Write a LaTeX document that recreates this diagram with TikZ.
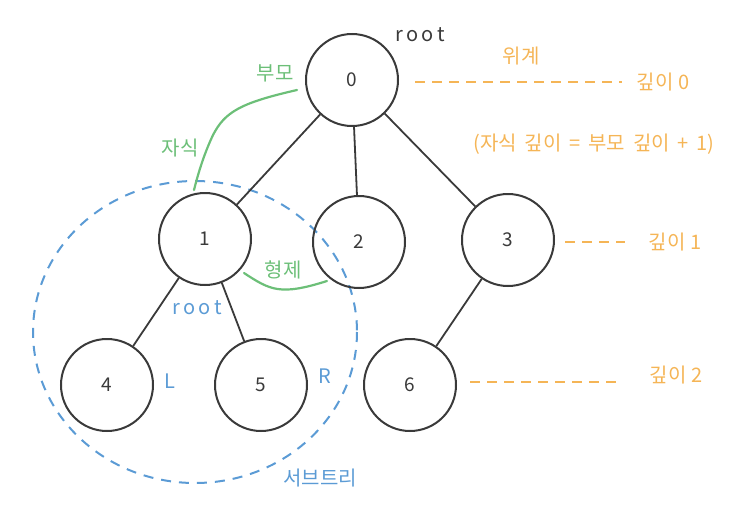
\documentclass[tikz,border=0pt]{standalone}
\usepackage{fontspec}
\setmainfont{Noto Sans CJK KR}
\definecolor{ink}{HTML}{3A3A3A}
\definecolor{grn}{HTML}{6CBF78}
\definecolor{org}{HTML}{F5B556}
\definecolor{blu}{HTML}{5B9BD5}
\tikzset{
  tnode/.style={circle,draw=ink,line width=2pt,minimum size=92pt,inner sep=0pt,font=\fontsize{19}{19}\selectfont,text=ink},
  edge/.style={draw=ink,line width=1.8pt},
  lbl/.style={font=\fontsize{20}{20}\selectfont,inner sep=0pt},
  olbl/.style={lbl,text=org},
  glbl/.style={lbl,text=grn},
  blbl/.style={lbl,text=blu},
  odash/.style={draw=org,line width=2pt,dash pattern=on 10pt off 7pt},
  gcurve/.style={draw=grn,line width=2.2pt,line cap=round},
}
\begin{document}
\begin{tikzpicture}[x=1pt,y=-1pt]
\useasboundingbox (0,0) rectangle (756,525);
% subtree circle
\draw[blu,line width=2pt,dash pattern=on 10pt off 8pt] (195,332) ellipse [x radius=162, y radius=151];
% nodes
\node[tnode] (n0) at (352,80) {0};
\node[tnode] (n1) at (205,239) {1};
\node[tnode] (n2) at (359,242) {2};
\node[tnode] (n3) at (508,240) {3};
\node[tnode] (n4) at (107,385) {4};
\node[tnode] (n5) at (261,385) {5};
\node[tnode] (n6) at (410,385) {6};
% edges
\draw[edge] (n0) -- (n1);
\draw[edge] (n0) -- (n2);
\draw[edge] (n0) -- (n3);
\draw[edge] (n1) -- (n4);
\draw[edge] (n1) -- (n5);
\draw[edge] (n3) -- (n6);
% labels
\node[lbl,text=ink] (rt) at (420,35) {r\,o\,o\,t};
\node[olbl] (wg) at (521,56) {위계};
\node[olbl] (d0) at (663,82) {깊이 0};
\node[olbl] (frm) at (594,144) {(자식\ \,깊이\ \,=\ \,부모\ \,깊이\ \,+\ \,1)};
\node[olbl] (d1) at (675,242) {깊이 1};
\node[olbl] (d2) at (676,375) {깊이 2};
\coordinate (a0) at (415,82); \coordinate (b0) at (622,82);
\coordinate (a1) at (565,242); \coordinate (b1) at (625,242);
\coordinate (a2) at (470,382); \coordinate (b2) at (622,382);
\draw[odash] (a0) -- (b0);
\draw[odash] (a1) -- (b1);
\draw[odash] (a2) -- (b2);
% green
\node[glbl] (pm) at (275,73) {부모};
\node[glbl] (ch) at (180,148) {자식};
\node[glbl] (sb) at (283,270) {형제};
\coordinate (g1) at (297,90);
\coordinate (g2) at (194,190);
\draw[gcurve] (g1) .. controls (240,103) and (225,112) .. (213,135) .. controls (205,152) and (199,170) .. (g2);
\coordinate (h1) at (244,273);
\coordinate (h2) at (327,281);
\draw[gcurve] (h1) .. controls (270,290) and (280,296) .. (h2);
% blue
\node[blbl] (br) at (197,308) {r\,o\,o\,t};
\node[blbl] (bl) at (170,381) {L};
\node[blbl] (bR) at (325,376) {R};
\node[blbl] (st) at (320,478) {서브트리};
\end{tikzpicture}
\end{document}
